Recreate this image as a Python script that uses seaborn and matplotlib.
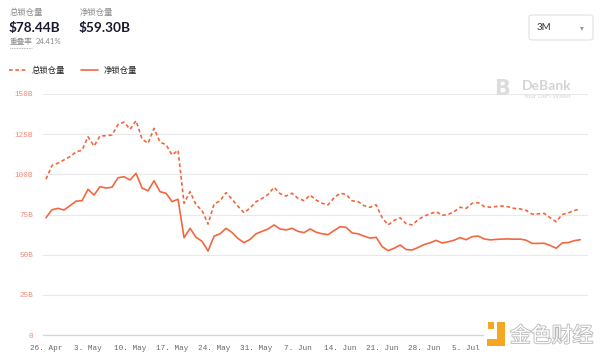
import numpy as np
import pandas as pd
import matplotlib
matplotlib.use("Agg")
import matplotlib.pyplot as plt
import matplotlib.patheffects as pe
from matplotlib.patches import FancyBboxPatch, Rectangle
import seaborn as sns

# ---------------- data ----------------
start_date = "2021-04-26"
total_locked = [97, 105.5, 107, 109, 111, 114, 115, 123.4, 117.6, 123.9,
                124, 124.5, 131, 132.5, 128, 133.4, 122, 119.3, 128.6, 120,
                118.5, 112, 115, 82, 89.2, 81, 77.5, 69, 81.5, 83.5,
                88.6, 84.5, 80, 76.1, 79, 83, 85, 87.5, 91.9, 88,
                86.5, 88.2, 85, 83.6, 87.1, 84, 82, 81, 85.5, 88.2,
                87.5, 83.5, 83, 80.5, 79.5, 81, 73, 68.5, 71.3, 73,
                69.3, 68.5, 71.8, 74, 75.4, 76.8, 74.5, 75, 76.8, 79.5,
                78.8, 82, 82.4, 80, 79.5, 80, 80.3, 79.8, 78.8, 78.5,
                77.5, 75.2, 75.4, 75.7, 73, 70.5, 75, 76, 77.5, 78.44]
net_locked = [73, 78, 78.8, 77.8, 80.5, 83.3, 83.6, 90.7, 87.1, 92.3,
              91.5, 92, 97.9, 98.5, 96.5, 100.6, 91.5, 89.8, 96, 89.2,
              88.2, 83, 84.5, 60.5, 66.4, 60.8, 58.3, 52.3, 61.5, 63,
              66.4, 63.8, 60, 57.5, 59.5, 63, 64.5, 66, 68.5, 66,
              65.4, 66.4, 64.5, 63.7, 66, 64, 63, 62.5, 65, 67.4,
              67, 63.5, 63, 61.5, 60.3, 60.8, 55, 52.5, 54, 56,
              53.2, 52.9, 54.5, 56.3, 57.4, 58.9, 57.3, 58, 59, 60.6,
              59.3, 61.2, 61.6, 59.8, 59.2, 59.5, 59.7, 59.8, 59.6, 59.7,
              59, 57, 57, 57.1, 55.7, 54, 57.3, 57.5, 58.7, 59.3]
series_names = ["总锁仓量", "净锁仓量"]
y_ticks = [0, 25, 50, 75, 100, 125, 150]
y_tick_labels = ["0", "25B", "50B", "75B", "100B", "125B", "150B"]
header_total = "$78.44B"
header_net = "$59.30B"
overlap_label = "重叠率"
overlap_value = "24.41%"
range_label = "3M"

dates = pd.date_range(start_date, periods=len(total_locked), freq="D")
df = pd.DataFrame({
    "date": np.concatenate([dates, dates]),
    "value": total_locked + net_locked,
    "series": [series_names[0]] * len(total_locked) + [series_names[1]] * len(net_locked),
})

# ---------------- style ----------------
sns.set_style("white")
plt.rcParams["font.family"] = ["Noto Sans CJK SC", "DejaVu Sans"]

W, H = 600, 360
fig = plt.figure(figsize=(6, 3.6), dpi=100)
fig.patch.set_facecolor("white")

def fx(px):
    return px / W

def fy(py):
    return 1 - py / H

left, right, top, bottom = 43, 588, 94, 335
ax = fig.add_axes([fx(left), fy(bottom), fx(right - left), (bottom - top) / H])

line_color = "#f2673f"
sns.lineplot(data=df, x="date", y="value", hue="series", style="series",
             palette=[line_color, line_color], dashes=[(2.2, 1.6), ""],
             linewidth=1.2, ax=ax, legend=False)

x0 = pd.Timestamp(start_date)
ax.set_xlim(x0 - pd.Timedelta(hours=12), x0 + pd.Timedelta(days=90.3))
ax.set_ylim(0, 150)
ax.set_xlabel("")
ax.set_ylabel("")

ax.set_yticks(y_ticks)
ax.set_yticklabels(y_tick_labels, family=["Liberation Mono", "DejaVu Sans"],
                   fontsize=5.5, color="#ee8a76")
ax.tick_params(axis="y", length=0, pad=7)
ax.grid(axis="y", color="#e9e9e9", linewidth=0.8)
ax.grid(axis="x", visible=False)

tick_dates = [x0 + pd.Timedelta(days=7 * k) for k in range(11)]
ax.set_xticks(tick_dates)
ax.set_xticklabels([f"{d.day}. {d.strftime('%b')}" for d in tick_dates],
                   family=["Liberation Mono", "DejaVu Sans"], fontsize=5.5, color="#666666")
ax.tick_params(axis="x", length=4, width=0.8, color="#ccd6eb", pad=3)

for s in ["top", "right", "left"]:
    ax.spines[s].set_visible(False)
ax.spines["bottom"].set_color("#ccd6eb")
ax.spines["bottom"].set_linewidth(0.9)

# ---------------- header ----------------
fig.text(fx(10), fy(13), series_names[0], fontsize=6, color="#8a8a8a", va="center")
fig.text(fx(80), fy(13), series_names[1], fontsize=6, color="#8a8a8a", va="center")
fig.text(fx(9), fy(28), header_total, fontsize=9.8, fontweight="bold",
         family=["Lato", "DejaVu Sans"], color="#1a1a2e", va="center")
fig.text(fx(79), fy(28), header_net, fontsize=9.8, fontweight="bold",
         family=["Lato", "DejaVu Sans"], color="#1a1a2e", va="center")
fig.text(fx(10), fy(42), overlap_label, fontsize=5.5, color="#8a8a8a", va="center")
fig.text(fx(36), fy(42), overlap_value, fontsize=5.5, color="#8a8a8a", va="center",
         family=["Lato", "DejaVu Sans"])
fig.add_artist(plt.Line2D([fx(10), fx(32)], [fy(47.5), fy(47.5)], color="#9a9a9a",
                          linewidth=0.6, linestyle=(0, (1, 1))))

# range selector
box = FancyBboxPatch((fx(529), fy(40)), fx(64), 25 / H,
                     boxstyle="round,pad=0,rounding_size=0.006",
                     transform=fig.transFigure, facecolor="white",
                     edgecolor="#e2e2e2", linewidth=0.8)
fig.add_artist(box)
fig.text(fx(537), fy(28), range_label, fontsize=7, color="#333333", va="center",
         family=["Lato", "DejaVu Sans"])
fig.text(fx(580), fy(28), "▾", fontsize=5.5, color="#999999", va="center",
         family=["DejaVu Sans"])

# legend
handles = ax.get_lines()[:2]
leg = fig.legend(handles, series_names, loc="center left",
                 bbox_to_anchor=(fx(9), fy(70)), ncol=2, frameon=False,
                 fontsize=6, handlelength=2.1, columnspacing=1.9,
                 handletextpad=0.6, borderpad=0, borderaxespad=0)
for t in leg.get_texts():
    t.set_color("#222222")

# DeBank watermark
fig.text(fx(494), fy(89), "B", fontsize=15, fontweight="bold", color="#dcdcdc",
         va="center", family=["DejaVu Sans"])
fig.text(fx(522), fy(86), "DeBank", fontsize=10, fontweight="bold", color="#d4d4d4",
         va="center", family=["Lato", "DejaVu Sans"])
fig.text(fx(523), fy(96), "Your DeFi Wallet", fontsize=4.5, color="#d4d4d4",
         va="center", family=["Lato", "DejaVu Sans"])

# bottom-right watermark
bg = Rectangle((fx(484), fy(350)), fx(112), 30 / H, transform=fig.transFigure,
               facecolor="white", edgecolor="none", zorder=5)
fig.add_artist(bg)
orange = "#f5a623"
for (x, y, w, h) in [(488, 322, 6, 7), (497, 322, 8, 24), (487, 339, 18, 7)]:
    fig.add_artist(Rectangle((fx(x), fy(y + h)), fx(w), h / H, transform=fig.transFigure,
                             facecolor=orange, edgecolor="none", zorder=6))
wm = fig.text(fx(510), fy(336), "金色财经", fontsize=15, color="white", va="center",
              zorder=7)
wm.set_path_effects([pe.Stroke(linewidth=1.2, foreground="#b8b8b8"), pe.Normal()])

fig.savefig("out.png", dpi=100)
